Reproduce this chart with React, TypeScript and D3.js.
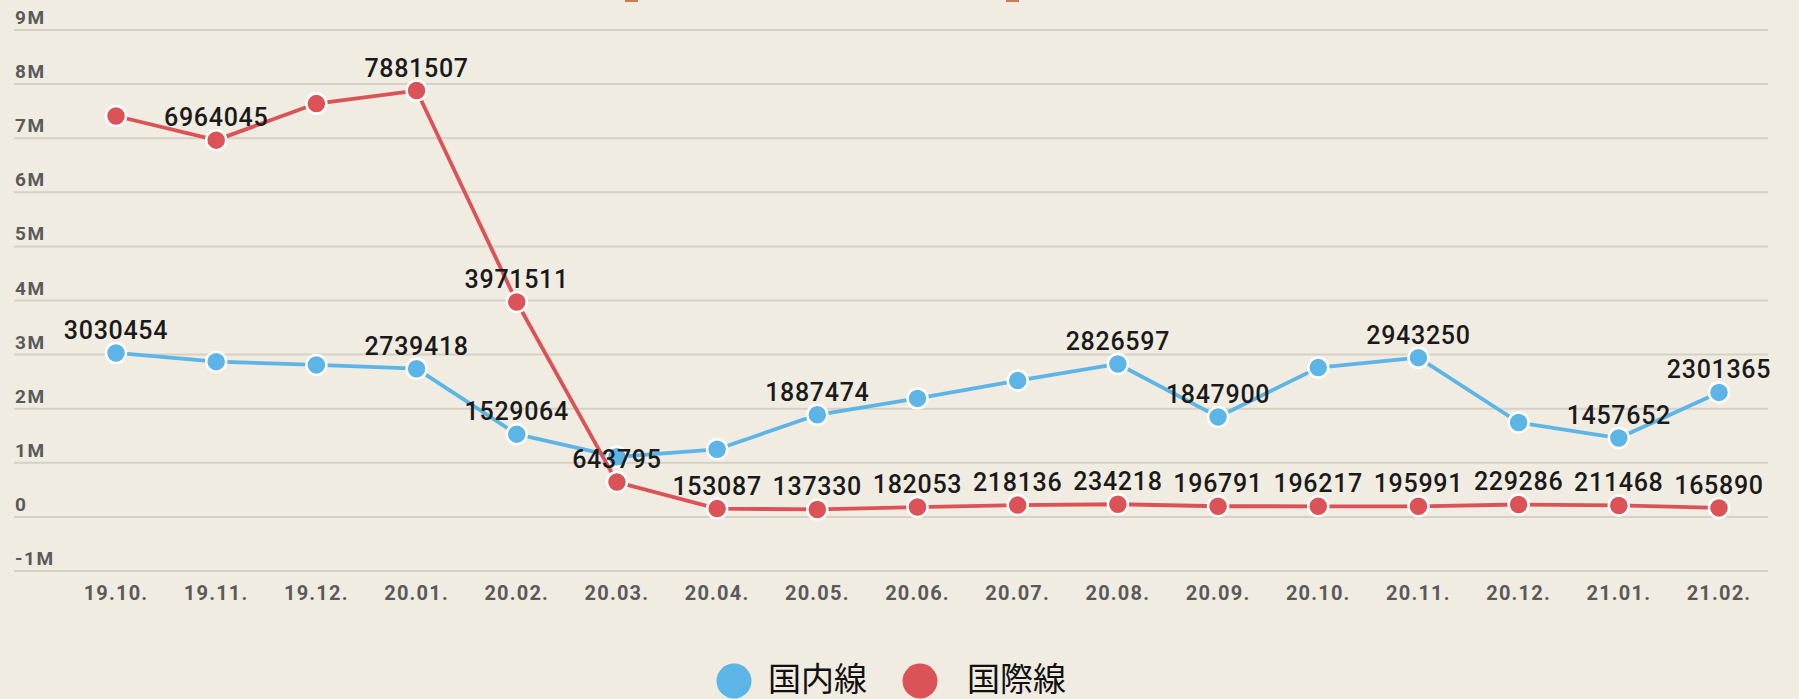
import React from 'react';
import * as d3 from 'd3';

// 월별 항공 여객 (국내선 / 국제선)
const CATEGORIES = ['19.10.', '19.11.', '19.12.', '20.01.', '20.02.', '20.03.', '20.04.', '20.05.', '20.06.',
  '20.07.', '20.08.', '20.09.', '20.10.', '20.11.', '20.12.', '21.01.', '21.02.'];

const DOMESTIC = [3030454, 2870000, 2810000, 2739418, 1529064, 1110000, 1250000, 1887474, 2190000,
  2520000, 2826597, 1847900, 2760000, 2943250, 1745000, 1457652, 2301365];

const INTERNATIONAL = [7410000, 6964045, 7640000, 7881507, 3971511, 643795, 153087, 137330, 182053,
  218136, 234218, 196791, 196217, 195991, 229286, 211468, 165890];

// 라벨이 보이는 점만 (겹쳐서 숨겨진 것 제외)
const DOMESTIC_LABELED = [1, 0, 0, 1, 1, 0, 0, 1, 0, 0, 1, 1, 0, 1, 0, 1, 1];
const INTERNATIONAL_LABELED = [0, 1, 0, 1, 1, 1, 1, 1, 1, 1, 1, 1, 1, 1, 1, 1, 1];

const Y_TICKS = [-1000000, 0, 1000000, 2000000, 3000000, 4000000, 5000000, 6000000, 7000000, 8000000, 9000000];
const Y_TICK_LABELS = ['-1M', '0', '1M', '2M', '3M', '4M', '5M', '6M', '7M', '8M', '9M'];

const SERIES_NAMES = ['国内線', '国際線'];

const W = 1799;
const H = 699;
const BG = '#f0ece1';
const BLUE = '#5cb5e6';
const RED = '#db5257';
const GRID = '#d5d1c6';

export default function App() {
  const x = d3.scalePoint<string>().domain(CATEGORIES).range([116, 1719]);
  const y = d3.scaleLinear().domain([-1000000, 9000000]).range([571, 30]);

  const line = d3.line<number>()
    .x((_, i) => x(CATEGORIES[i]) as number)
    .y(d => y(d));

  const series = [
    { name: SERIES_NAMES[0], values: DOMESTIC, shown: DOMESTIC_LABELED, color: BLUE },
    { name: SERIES_NAMES[1], values: INTERNATIONAL, shown: INTERNATIONAL_LABELED, color: RED },
  ];

  const labelFont = { fontFamily: 'Roboto, sans-serif', fontSize: 25, fontWeight: 500, fill: '#1a1a1a', letterSpacing: 0.7 };

  return (
    <svg width={W} height={H} style={{ position: 'absolute', left: 0, top: 0, display: 'block' }}>
      <rect width={W} height={H} fill={BG} />

      {/* 잘린 제목의 일부 */}
      <rect x={625} y={0} width={13} height={2} fill="#cf7a52" />
      <rect x={1006} y={0} width={13} height={2} fill="#cf7a52" />

      {/* 그리드 + Y축 */}
      <g>
        {Y_TICKS.map((t, i) => (
          <g key={t}>
            <line x1={14} x2={1768} y1={y(t)} y2={y(t)} stroke={GRID} strokeWidth={2} />
            <text x={15} y={y(t) - 6} fill="#5a5a5a" fontFamily="Roboto, sans-serif"
              fontWeight={700} fontSize={19} letterSpacing={1.6}>{Y_TICK_LABELS[i]}</text>
          </g>
        ))}
      </g>

      {/* X축 */}
      <g>
        {CATEGORIES.map(c => (
          <text key={c} x={x(c)} y={600} textAnchor="middle" fill="#5a5a5a"
            fontFamily="Roboto, sans-serif" fontWeight={700} fontSize={20} letterSpacing={1.2}>{c}</text>
        ))}
      </g>

      {/* 선 + 점 */}
      {series.map(s => (
        <g key={s.name}>
          <path d={line(s.values) || ''} fill="none" stroke={s.color} strokeWidth={3.8} strokeLinejoin="round" />
          {s.values.map((v, i) => (
            <circle key={i} cx={x(CATEGORIES[i])} cy={y(v)} r={10} fill={s.color} stroke="#fff" strokeWidth={2.5} />
          ))}
        </g>
      ))}

      {/* 값 라벨 */}
      {series.map(s => (
        <g key={s.name + '-labels'}>
          {s.values.map((v, i) => s.shown[i] ? (
            <text key={i} x={x(CATEGORIES[i])} y={y(v) - 14} textAnchor="middle" {...labelFont}>{v}</text>
          ) : null)}
        </g>
      ))}

      {/* 범례 */}
      <g fontFamily="'Noto Sans CJK JP', sans-serif" fontSize={33} fill="#111">
        <circle cx={734} cy={681} r={17.5} fill={BLUE} />
        <text x={768} y={691}>{SERIES_NAMES[0]}</text>
        <circle cx={920} cy={681} r={17.5} fill={RED} />
        <text x={967} y={691}>{SERIES_NAMES[1]}</text>
      </g>
    </svg>
  );
}
